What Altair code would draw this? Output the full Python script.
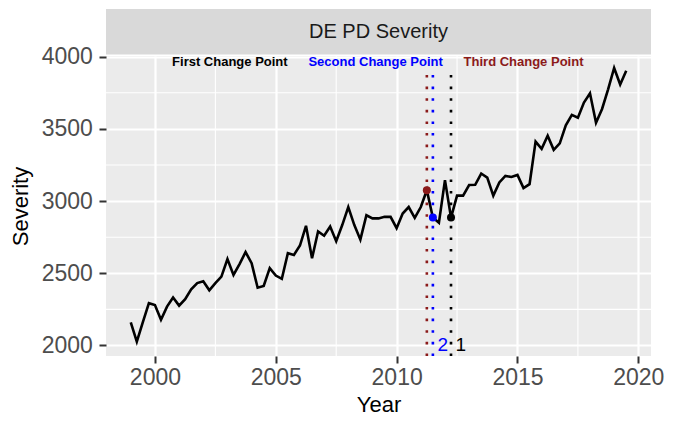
import altair as alt
import pandas as pd

FONT = "Liberation Sans"
W, H = 545, 300

# ---- data ----
years = [1999 + 0.25 * i for i in range(83)]  # quarterly dates 1999Q1 .. 2019Q3
severity = [
    2160, 2027, 2161, 2293, 2280, 2178, 2269, 2332, 2276, 2321, 2389, 2432,
    2444, 2382, 2432, 2477, 2598, 2489, 2564, 2647, 2570, 2400, 2412, 2536,
    2484, 2461, 2639, 2627, 2692, 2829, 2604, 2790, 2760, 2824, 2722, 2834,
    2959, 2834, 2733, 2902, 2880, 2880, 2891, 2891, 2812, 2914, 2959, 2884,
    2959, 3075, 2886, 2850, 3145, 2886, 3038, 3038, 3111, 3113, 3191, 3163,
    3038, 3129, 3174, 3167, 3181, 3090, 3117, 3412, 3362, 3453, 3355, 3400,
    3525, 3597, 3577, 3683, 3747, 3543, 3638, 3774, 3922, 3808, 3903,
]

x_major = [2000, 2005, 2010, 2015, 2020]
x_minor = [2002.5, 2007.5, 2012.5, 2017.5]
y_major = [2000, 2500, 3000, 3500, 4000]
y_minor = [2250, 2750, 3250, 3750]

cp_years = [2012.25, 2011.5, 2011.25]
cp_values = [2886, 2886, 3075]
cp_colors = ["black", "blue", "#8B1A1A"]
cp_top = 3890

ann_text = ["First Change Point", "Second Change Point", "Third Change Point"]
ann_x = [2003.1, 2009.13, 2015.25]
ann_y = 3960

num_text = ["2", "1"]
num_x = [2011.5, 2012.25]
num_colors = ["blue", "black"]
num_y = 2000

strip_title = "DE PD Severity"

X_DOMAIN = [1997.975, 2020.525]
Y_DOMAIN = [1927, 4005]

# ---- tables ----
df = pd.DataFrame({"Year": years, "Severity": severity})
mx_df = pd.DataFrame({"v": x_minor})
my_df = pd.DataFrame({"v": y_minor})
cp_df = pd.DataFrame({"cp": cp_years, "val": cp_values, "col": cp_colors,
                      "top": [cp_top] * 3, "bottom": [Y_DOMAIN[0]] * 3})
ann_df = pd.DataFrame({"t": ann_text, "x": ann_x, "y": [ann_y] * 3, "col": cp_colors})
num_df = pd.DataFrame({"t": num_text, "x": num_x, "y": [num_y] * 2, "col": num_colors})
strip_df = pd.DataFrame({"t": [strip_title]})

x_axis = alt.Axis(values=x_major, format="d", title="Year", labelBaseline="alphabetic",
                  labelPadding=21, titleX=W / 2, titleY=55, titleAlign="center",
                  titleBaseline="alphabetic")
y_axis = alt.Axis(values=y_major, format="d", title="Severity", labelPadding=6.6,
                  titleX=-86, titleY=H / 2, titleAlign="center", titleBaseline="middle",
                  titleAngle=270)
xs = alt.Scale(domain=X_DOMAIN, nice=False, zero=False)
ys = alt.Scale(domain=Y_DOMAIN, nice=False, zero=False)


def X(f):
    return alt.X(f + ":Q", scale=xs, axis=x_axis)


def Y(f):
    return alt.Y(f + ":Q", scale=ys, axis=y_axis)


minor_x = alt.Chart(mx_df).mark_rule(color="white", strokeWidth=1.1).encode(x=X("v"))
minor_y = alt.Chart(my_df).mark_rule(color="white", strokeWidth=1.1).encode(y=Y("v"))

line = alt.Chart(df).mark_line(color="black", strokeWidth=2.6).encode(
    x=X("Year"), y=Y("Severity"))

vlines = alt.Chart(cp_df).mark_rule(strokeWidth=2.6, strokeDash=[2.6, 9]).encode(
    x=X("cp"), y=Y("bottom"), y2=alt.Y2("top:Q"),
    color=alt.Color("col:N", scale=None))

points = alt.Chart(cp_df).mark_circle(size=64, opacity=1).encode(
    x=X("cp"), y=Y("val"), color=alt.Color("col:N", scale=None))

ann = alt.Chart(ann_df).mark_text(font=FONT, fontSize=13, fontWeight="bold",
                                  align="center", baseline="middle").encode(
    x=X("x"), y=Y("y"), text="t:N", color=alt.Color("col:N", scale=None))

nums = alt.Chart(num_df).mark_text(font=FONT, fontSize=19, align="left",
                                   baseline="middle", dx=4.5).encode(
    x=X("x"), y=Y("y"), text="t:N", color=alt.Color("col:N", scale=None))

strip_rect = alt.Chart(strip_df).mark_rect(color="#D9D9D9").encode(
    x=alt.value(0), x2=alt.value(W), y=alt.value(-47), y2=alt.value(-1.5))
strip_text = alt.Chart(strip_df).mark_text(font=FONT, fontSize=20, color="#1A1A1A",
                                           align="center", baseline="middle").encode(
    x=alt.value(W / 2), y=alt.value(-24.3), text="t:N")

chart = alt.layer(
    minor_x, minor_y, line, vlines, points, ann, nums, strip_rect, strip_text
).properties(
    width=W, height=H,
    autosize=alt.AutoSizeParams(type="none"),
    padding={"left": 98, "top": 48, "right": 14, "bottom": 60},
).configure_view(
    fill="#EBEBEB", strokeWidth=0
).configure_axis(
    domain=False, tickColor="#333333", tickWidth=2, tickSize=7,
    labelColor="#4D4D4D", labelFont=FONT, labelFontSize=23,
    titleFont=FONT, titleFontSize=22, titleColor="black", titleFontWeight="normal",
    gridColor="white", gridWidth=2.2, gridOpacity=1,
)

chart.save("out.html", embed_options={"renderer": "svg", "actions": False})
